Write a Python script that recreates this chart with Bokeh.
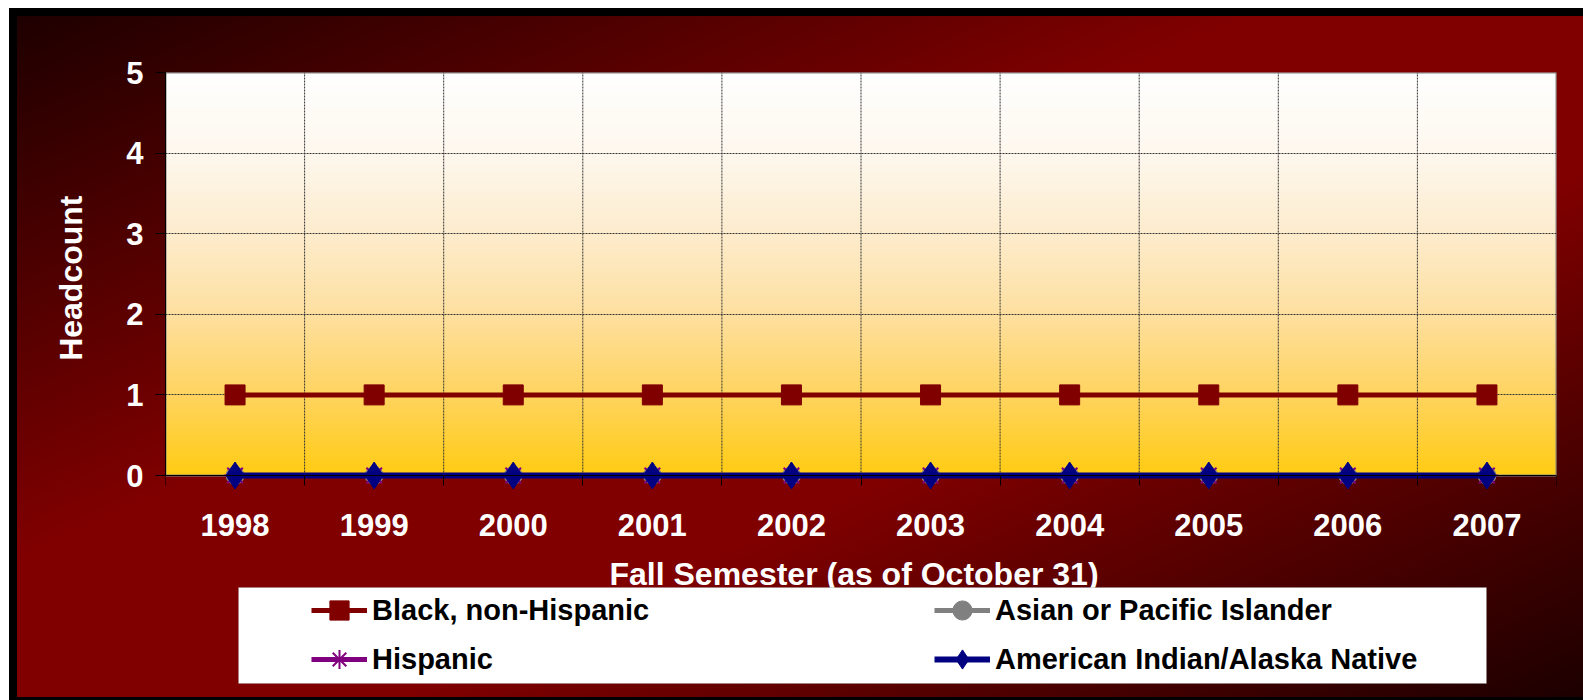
import numpy as np
from bokeh.plotting import figure
from bokeh.models import (Range1d, FixedTicker, Legend, LegendItem, BoxAnnotation,
                          CustomJSTickFormatter, Label, Title)
from bokeh.embed import file_html
from bokeh.resources import INLINE

# ---- data ----
years = ["1998", "1999", "2000", "2001", "2002", "2003", "2004", "2005", "2006", "2007"]
black_non_hispanic = [1, 1, 1, 1, 1, 1, 1, 1, 1, 1]
asian_pacific_islander = [0, 0, 0, 0, 0, 0, 0, 0, 0, 0]
hispanic = [0, 0, 0, 0, 0, 0, 0, 0, 0, 0]
american_indian_alaska_native = [0, 0, 0, 0, 0, 0, 0, 0, 0, 0]
y_ticks = [0, 1, 2, 3, 4, 5]

n = len(years)
x = [i + 0.5 for i in range(n)]
boundaries = list(range(1, n))

FONT = "Liberation Sans"

# ---- layout (pixels) ----
W, H = 1583, 700
FRAME_LEFT, FRAME_RIGHT = 165, 1556
FRAME_TOP, FRAME_BOTTOM, ZERO_PX = 72, 690, 475
px_per_unit = (ZERO_PX - FRAME_TOP) / (y_ticks[-1] - y_ticks[0])
y_start = y_ticks[0] - (FRAME_BOTTOM - ZERO_PX) / px_per_unit

p = figure(width=W, height=H, output_backend="svg", toolbar_location=None,
           x_range=Range1d(0, n), y_range=Range1d(y_start, y_ticks[-1]),
           min_border_left=FRAME_LEFT, min_border_right=W - FRAME_RIGHT,
           min_border_top=FRAME_TOP, min_border_bottom=H - FRAME_BOTTOM)

p.border_fill_alpha = 0
p.background_fill_alpha = 0
p.outline_line_color = None
p.styles = {
    "background": (
        "linear-gradient(#000,#000) 9px 8px / 100% 8px no-repeat, "
        "linear-gradient(#000,#000) 9px 8px / 8px 100% no-repeat, "
        "linear-gradient(#000,#000) 9px 697px / 100% 3px no-repeat, "
        "linear-gradient(to bottom right, #1c0000 0%, #800000 40%, #800000 62%, #1c0000 100%) "
        "9px 8px / calc(100% - 9px) calc(100% - 8px) no-repeat, "
        "#ffffff"
    )
}

# plot-area gradient (white top -> gold bottom)
N = 256
stops = [0.0, 0.2, 0.4, 0.6, 0.8, 1.0]
cols = [(255, 255, 255), (254, 248, 238), (253, 236, 205), (254, 224, 160),
        (255, 212, 96), (255, 204, 20)]
t = np.linspace(1, 0, N)  # row 0 = bottom
img = np.zeros((N, 1), dtype=np.uint32)
view = img.view(dtype=np.uint8).reshape((N, 1, 4))
for k in range(3):
    view[:, 0, k] = np.interp(t, stops, [c[k] for c in cols]).astype(np.uint8)
view[:, 0, 3] = 255
p.image_rgba(image=[img], x=0, y=y_ticks[0], dw=n, dh=y_ticks[-1] - y_ticks[0],
             level="image")
p.quad(left=0, right=n, bottom=y_ticks[0], top=y_ticks[-1], fill_alpha=0,
       line_color="#808080", line_width=2, level="underlay")

# axes
p.xaxis.fixed_location = y_ticks[0]
p.xaxis.ticker = FixedTicker(ticks=x, minor_ticks=list(range(n + 1)))
p.xaxis.formatter = CustomJSTickFormatter(args=dict(years=years),
                                          code="return years[Math.floor(tick)];")
p.xaxis.major_tick_line_color = None
p.xaxis.minor_tick_line_color = "black"
p.xaxis.minor_tick_out = 10
p.xaxis.minor_tick_in = 0
p.yaxis.ticker = FixedTicker(ticks=y_ticks)
p.yaxis.bounds = (y_ticks[0], y_ticks[-1])
p.yaxis.minor_tick_line_color = None
p.yaxis.major_tick_line_color = "black"
p.yaxis.major_tick_out = 10
p.yaxis.major_tick_in = 0
for ax in (p.xaxis, p.yaxis):
    ax.axis_line_color = "black"
    ax.axis_line_width = 1
    ax.major_label_text_font = FONT
    ax.major_label_text_font_style = "bold"
    ax.major_label_text_font_size = "31px"
    ax.major_label_text_color = "white"
p.xaxis.major_label_standoff = 28
p.yaxis.major_label_standoff = 12

# y axis title (placed from the top of the plot area)
p.add_layout(Title(text="Headcount", align="right", vertical_align="bottom",
                   offset=123, standoff=70, text_font=FONT, text_font_style="bold",
                   text_font_size="32px", text_color="white"), "left")

# x axis title
p.add_layout(Label(x=n / 2, y=y_ticks[0] - (573 - ZERO_PX) / px_per_unit, x_offset=-7,
                   text="Fall Semester (as of October 31)", text_align="center",
                   text_baseline="middle", text_font=FONT, text_font_style="bold",
                   text_font_size="32px", text_color="white"))

p.xgrid.grid_line_color = None
p.ygrid.ticker = FixedTicker(ticks=y_ticks[1:-1])
p.ygrid.grid_line_color = "#333333"
p.ygrid.grid_line_dash = "2 1"
p.segment(x0=boundaries, y0=y_ticks[0], x1=boundaries, y1=y_ticks[-1],
          line_color="#333333", line_dash="2 1", line_width=1, level="underlay")

# series
l1 = p.line(x, black_non_hispanic, line_color="#800000", line_width=5)
m1 = p.scatter(x, black_non_hispanic, marker="square", size=20,
               fill_color="#800000", line_color="#800000")
l2 = p.line(x, asian_pacific_islander, line_color="#808080", line_width=5)
m2 = p.scatter(x, asian_pacific_islander, marker="circle", size=18,
               fill_color="#808080", line_color="#808080")
l3 = p.line(x, hispanic, line_color="#800080", line_width=5)
m3 = p.scatter(x, hispanic, marker="asterisk", size=22, line_color="#800080",
               line_width=2)
l4 = p.line(x, american_indian_alaska_native, line_color="#000080", line_width=6)
m4 = p.scatter(x, american_indian_alaska_native, marker="diamond", size=27,
               fill_color="#000080", line_color="#000080")

# legend box
box = BoxAnnotation(left=238, right=1486, top=587, bottom=683,
                    left_units="canvas", right_units="canvas",
                    top_units="canvas", bottom_units="canvas",
                    fill_color="white", fill_alpha=1,
                    line_color="#808080", line_width=1)
p.add_layout(box)


def make_legend(items, loc):
    return Legend(items=items, location=loc, glyph_width=56, glyph_height=48,
                  spacing=1, padding=0, margin=0, label_standoff=5,
                  background_fill_alpha=0, border_line_alpha=0,
                  label_text_font=FONT, label_text_font_style="bold",
                  label_text_font_size="29px", label_text_color="black")


leg_bottom = FRAME_BOTTOM - 683
leg1 = make_legend([LegendItem(label="Black, non-Hispanic", renderers=[l1, m1]),
                    LegendItem(label="Hispanic", renderers=[l3, m3])],
                   (311 - FRAME_LEFT, leg_bottom))
leg2 = make_legend([LegendItem(label="Asian or Pacific Islander", renderers=[l2, m2]),
                    LegendItem(label="American Indian/Alaska Native", renderers=[l4, m4])],
                   (934 - FRAME_LEFT, leg_bottom))
p.add_layout(leg1)
p.add_layout(leg2)

open("out.html", "w").write(file_html(p, INLINE))
